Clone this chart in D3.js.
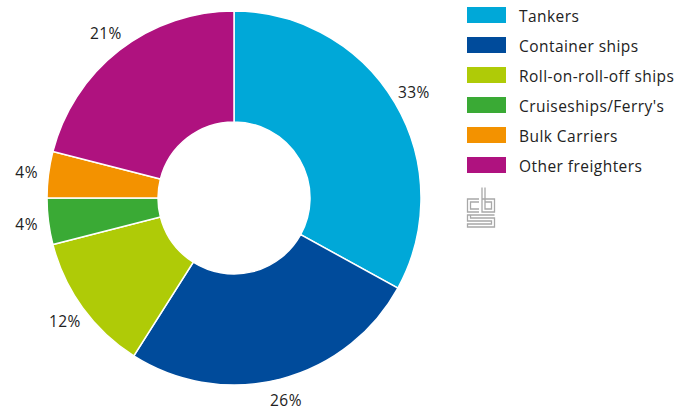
<!DOCTYPE html>
<html>
<head>
<meta charset="utf-8">
<script src="https://cdn.jsdelivr.net/npm/d3@7"></script>
<style>
    body { margin: 0; background: #fff; }
    text { font-family: "Open Sans", sans-serif; fill: #222; letter-spacing: 0.45px; }
</style>
</head>
<body>
<div id="chart"></div>
<script>
const categories = ["Tankers", "Container ships", "Roll-on-roll-off ships", "Cruiseships/Ferry's", "Bulk Carriers", "Other freighters"];
const shares = [33, 26, 12, 4, 4, 21];
const colors = ["#00a8d8", "#004b9b", "#afcb07", "#3aaa35", "#f39200", "#af127f"];

const width = 678, height = 411;
const cx = 234, cy = 198;
const outerRadius = 187, innerRadius = 76, labelRadius = 209;

const svg = d3.select("#chart").append("svg")
    .attr("width", width)
    .attr("height", height);

const pie = d3.pie().sort(null).value(d => d.value);
const arcs = pie(categories.map((c, i) => ({name: c, value: shares[i], color: colors[i]})));

const arc = d3.arc().innerRadius(innerRadius).outerRadius(outerRadius);
const labelArc = d3.arc().innerRadius(labelRadius).outerRadius(labelRadius);

const g = svg.append("g").attr("transform", `translate(${cx},${cy})`);

g.selectAll("path")
    .data(arcs)
    .enter()
    .append("path")
    .attr("d", arc)
    .attr("fill", d => d.data.color)
    .attr("stroke", "#fff")
    .attr("stroke-width", 1.5);

// percentage labels outside the ring
g.selectAll("text")
    .data(arcs)
    .enter()
    .append("text")
    .attr("transform", d => `translate(${labelArc.centroid(d)})`)
    .attr("text-anchor", "middle")
    .attr("dominant-baseline", "central")
    .attr("font-size", 15.5)
    .text(d => d.data.value + "%");

// legend
const legend = svg.append("g").attr("transform", "translate(467,7)");
const rows = legend.selectAll("g")
    .data(categories)
    .enter()
    .append("g")
    .attr("transform", (d, i) => `translate(0,${i * 30})`);

rows.append("rect")
    .attr("width", 39)
    .attr("height", 16)
    .attr("fill", (d, i) => colors[i]);

rows.append("text")
    .attr("x", 52)
    .attr("y", 8.5)
    .attr("dominant-baseline", "central")
    .attr("font-size", 15.5)
    .text(d => d);

// cbs logo
const logo = svg.append("g")
    .attr("transform", "translate(467,187)")
    .attr("fill", "none")
    .attr("stroke", "#a8a8a8")
    .attr("stroke-width", 1.3);
const logoPaths = [
    "M12,12 H0.5 V25 H12",
    "M12,15 H3.5 V22 H12",
    "M15,0.5 V25 H27.5 V12 H15",
    "M18,0.5 V22 H24.5 V15 H18",
    "M27.5,28 H0.5 V34 H24.5 V37 H0.5 V40 H27.5 V31 H3.5 V28"
];
logo.selectAll("path")
    .data(logoPaths)
    .enter()
    .append("path")
    .attr("d", d => d);
</script>
</body>
</html>
